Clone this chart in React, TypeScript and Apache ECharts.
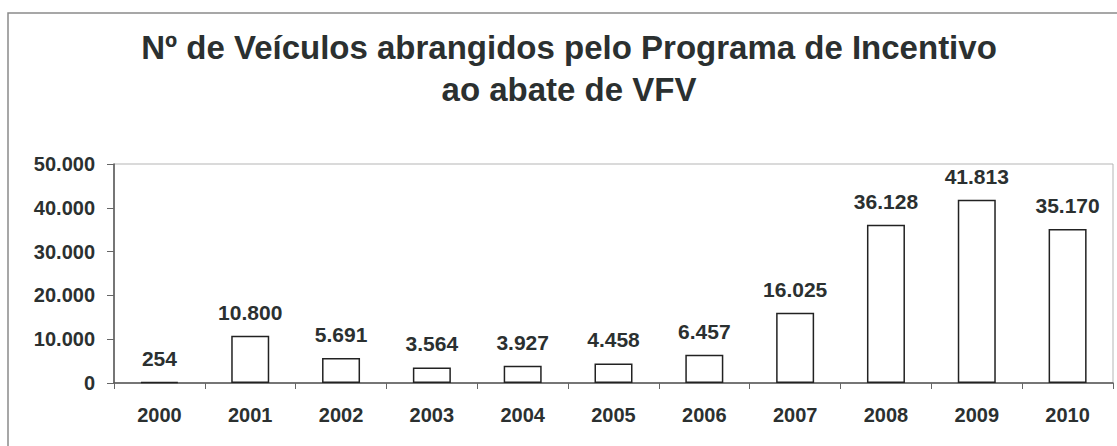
import React, { useEffect, useRef } from "react";
import * as echarts from "echarts";

const years = ["2000", "2001", "2002", "2003", "2004", "2005", "2006", "2007", "2008", "2009", "2010"];
const vehicles = [254, 10800, 5691, 3564, 3927, 4458, 6457, 16025, 36128, 41813, 35170];
const titleLines = ["Nº de Veículos abrangidos pelo Programa de Incentivo", "ao abate de VFV"];

const TEXT = "#2b3030";
const FONT = "'Liberation Sans', Arial, sans-serif";

function fmt(v: number): string {
  return String(Math.round(v)).replace(/\B(?=(\d{3})+(?!\d))/g, ".");
}

export default function App() {
  const ref = useRef<HTMLDivElement>(null);
  useEffect(() => {
    if (!ref.current) return;
    const chart = echarts.init(ref.current, undefined, { renderer: "svg" });
    chart.setOption({
      animation: false,
      backgroundColor: "#ffffff",
      textStyle: { fontFamily: FONT },
      title: {
        text: titleLines.join("\n"),
        left: 569,
        top: 26,
        padding: 0,
        textAlign: "center",
        textStyle: { fontFamily: FONT, fontSize: 33, fontWeight: "bold", color: TEXT, lineHeight: 42 },
      },
      graphic: [
        {
          type: "rect",
          shape: { x: 8, y: 13, width: 1130, height: 445 },
          style: { fill: "none", stroke: "#8a8a8a", lineWidth: 1.5 },
          silent: true,
        },
      ],
      grid: {
        left: 114,
        right: 4,
        top: 164,
        bottom: 63,
        show: true,
        borderColor: "#b5b5b5",
        borderWidth: 1,
        containLabel: false,
      },
      xAxis: {
        type: "category",
        data: years,
        boundaryGap: true,
        axisLine: { show: true, lineStyle: { color: "#555", width: 1.5 } },
        axisTick: { show: true, alignWithLabel: false, length: 6, lineStyle: { color: "#666", width: 1 } },
        axisLabel: { margin: 22, fontSize: 20, fontWeight: "bold", color: TEXT, fontFamily: FONT },
        splitLine: { show: false },
      },
      yAxis: {
        type: "value",
        min: 0,
        max: 50000,
        interval: 10000,
        axisLine: { show: true, lineStyle: { color: "#555", width: 1.5 } },
        axisTick: { show: true, length: 7, lineStyle: { color: "#666", width: 1 } },
        axisLabel: {
          margin: 19,
          fontSize: 20,
          fontWeight: "bold",
          color: TEXT,
          fontFamily: FONT,
          formatter: (v: number) => fmt(v),
        },
        splitLine: { show: false },
      },
      series: [
        {
          type: "bar",
          data: vehicles,
          barWidth: 38,
          itemStyle: { color: "#ffffff", borderColor: "#222", borderWidth: 1.5 },
          label: {
            show: true,
            position: "top",
            distance: 13,
            fontSize: 21,
            fontWeight: "bold",
            color: TEXT,
            fontFamily: FONT,
            formatter: (p: any) => fmt(p.value),
          },
        },
      ],
    });
    return () => chart.dispose();
  }, []);
  return (
    <div
      ref={ref}
      style={{ position: "fixed", left: 0, top: 0, width: 1117, height: 446, background: "#fff" }}
    />
  );
}
